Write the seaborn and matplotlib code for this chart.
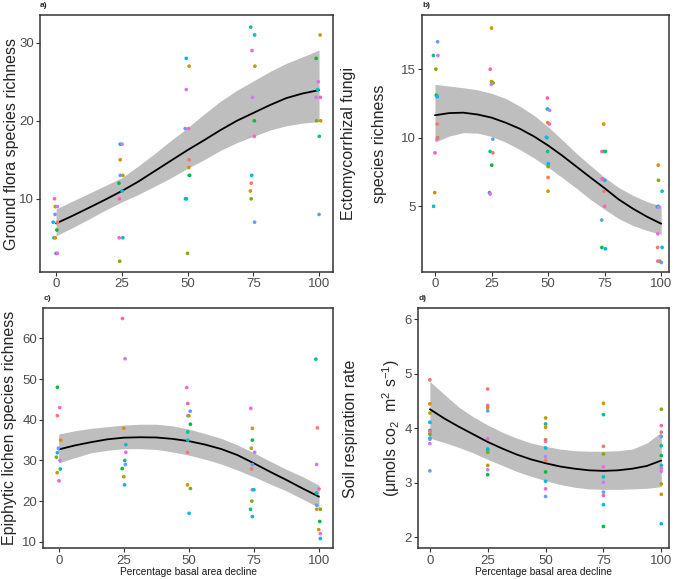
import numpy as np
import pandas as pd
import matplotlib
matplotlib.use("Agg")
import matplotlib.pyplot as plt
import seaborn as sns

# ggplot default hue palette for 12 sites
site_colours = ["#F8766D", "#DE8C00", "#B79F00", "#7CAE00", "#00BA38", "#00C08B",
                "#00BFC4", "#00B4F0", "#619CFF", "#C77CFF", "#F564E3", "#FF64B0"]

# a) ground flora - jittered decline, richness, site
flora_x = [-0.6, -0.3, 0.5, -0.4, -1.1, 0.5, 0.3, -0.8, -0.3, 0.0, 0.5,
           24.4, 25.1, 24.4, 24.4, 25.4, 23.9, 25.1, 24.1, 24.0, 25.4, 24.2,
           49.5, 50.6, 49.5, 49.1, 50.4, 50.6, 50.5, 50.6, 50.8, 49.2, 49.6, 50.0,
           74.0, 75.5, 74.5, 75.6, 74.7, 75.4, 75.4, 74.4, 74.2, 73.9, 74.2, 75.5,
           100.4, 98.9, 99.7, 99.5, 98.9, 100.5, 100.6, 99.1, 100.1, 100.0]
flora_y = [10, 9, 9, 8, 7, 7, 6, 5, 5, 3, 3,
           17, 17, 15, 13, 13, 12, 11, 10, 5, 5, 2,
           28, 27, 24, 19, 19, 15, 14, 13, 13, 10, 10, 3,
           32, 31, 29, 27, 23, 20, 18, 13, 12, 11, 10, 7,
           31, 28, 25, 24, 23, 23, 20, 20, 18, 8]
flora_site = [11, 2, 9, 8, 7, 0, 4, 6, 1, 5, 10,
              5, 9, 1, 8, 2, 4, 7, 11, 10, 6, 3,
              7, 2, 9, 8, 11, 0, 1, 10, 4, 5, 6, 3,
              5, 7, 10, 2, 9, 4, 11, 6, 0, 1, 3, 8,
              2, 4, 10, 6, 9, 11, 1, 3, 5, 8]

# b) ectomycorrhizal fungi
fungi_x = [1.2, -0.7, 1.3, 0.4, 0.6, 1.0, 1.0, 1.2, 0.9, 0.0, -0.1, -0.6,
           25.0, 24.4, 25.0, 25.7, 24.9, 25.6, 24.4, 25.6, 25.1, 24.1, 24.4,
           49.7, 49.7, 50.7, 49.9, 50.6, 49.2, 49.5, 49.8, 50.1, 50.0, 50.0, 50.0,
           74.6, 73.8, 74.7, 75.4, 73.7, 74.1, 75.1, 74.7, 75.0, 73.7, 73.8, 75.4,
           98.7, 98.8, 100.4, 98.2, 98.8, 99.0, 98.5, 98.4, 100.4, 98.5, 99.4, 100.1]
fungi_y = [17.0, 16.0, 16.0, 15.0, 13.1, 13.0, 11.0, 10.0, 9.9, 8.9, 6.0, 5.0,
           18.0, 15.0, 14.1, 14.0, 13.9, 9.9, 9.0, 8.9, 8.0, 6.0, 5.9,
           12.9, 12.1, 12.0, 11.1, 11.0, 10.05, 10.0, 9.0, 8.1, 7.9, 7.1, 6.1,
           11.0, 9.0, 9.0, 9.0, 7.0, 7.0, 6.9, 6.1, 5.0, 4.0, 2.0, 1.9,
           8.0, 6.9, 6.1, 4.95, 5.0, 4.95, 3.0, 2.0, 2.0, 1.0, 1.0, 0.9]
fungi_site = [8, 5, 9, 3, 4, 7, 0, 2, 10, 11, 1, 6,
              1, 11, 2, 3, 9, 8, 5, 0, 4, 6, 10,
              11, 7, 9, 1, 10, 8, 6, 5, 7, 3, 0, 2,
              1, 10, 3, 5, 9, 11, 6, 0, 11, 8, 4, 7,
              1, 3, 6, 8, 4, 9, 10, 0, 7, 10, 2, 8]

# c) epiphytic lichens
lichen_x = [-0.5, 0.4, -0.5, 0.8, -0.1, -0.5, -0.9, 0.5, 0.6, -0.6, 0.1,
            24.5, 25.5, 25.0, 25.8, 25.8, 25.4, 25.6, 24.4, 25.0, 25.3,
            49.2, 49.6, 50.5, 49.6, 50.0, 50.6, 49.6, 49.6, 49.5, 49.5, 50.6, 50.1,
            73.8, 74.4, 74.4, 74.0, 75.3, 74.4, 74.1, 74.4, 75.0, 74.2, 73.7, 74.4,
            98.8, 99.4, 99.1, 100.0, 99.1, 99.1, 99.1, 100.5, 100.3, 99.9, 100.5, 100.5]
lichen_y = [48.0, 43.0, 41.0, 35.0, 33.0, 31.9, 30.8, 30.0, 27.9, 27.0, 25.0,
            64.9, 55.0, 37.9, 33.9, 32.0, 30.0, 29.0, 28.0, 26.0, 24.0,
            47.9, 44.0, 42.1, 41.0, 41.0, 38.9, 37.0, 35.0, 32.0, 24.0, 23.1, 17.0,
            42.8, 37.9, 35.0, 33.0, 32.0, 29.0, 27.9, 22.8, 22.8, 20.0, 18.0, 16.2,
            54.9, 38.0, 29.0, 23.0, 22.0, 19.0, 18.0, 18.0, 15.0, 13.0, 12.0, 10.8]
lichen_site = [4, 10, 0, 1, 8, 7, 3, 9, 5, 2, 11,
               11, 9, 1, 6, 10, 5, 8, 4, 2, 7,
               10, 11, 8, 9, 2, 4, 5, 6, 0, 1, 3, 7,
               10, 1, 4, 2, 9, 8, 0, 11, 6, 3, 5, 7,
               5, 0, 9, 11, 6, 8, 1, 3, 4, 2, 10, 7]

# d) soil respiration
resp_x = [0] * 11 + [25] * 11 + [50] * 12 + [75] * 11 + [100] * 12
resp_y = [4.89, 4.45, 4.28, 4.11, 3.96, 3.94, 3.89, 3.82, 3.80, 3.72, 3.22,
          4.72, 4.42, 4.38, 4.32, 3.81, 3.62, 3.59, 3.56, 3.32, 3.24, 3.15,
          4.19, 4.08, 4.02, 3.79, 3.76, 3.64, 3.48, 3.41, 3.20, 3.03, 2.89, 2.75,
          4.46, 4.25, 3.67, 3.53, 3.29, 3.11, 3.01, 2.83, 2.77, 2.60, 2.20,
          4.35, 4.05, 3.93, 3.85, 3.68, 3.50, 3.32, 3.27, 3.21, 2.98, 2.79, 2.25]
resp_site = [0, 1, 2, 7, 4, 10, 3, 6, 8, 9, 8,
             0, 11, 1, 8, 10, 7, 6, 3, 2, 9, 4,
             2, 5, 1, 3, 11, 6, 9, 0, 4, 7, 10, 8,
             1, 5, 0, 3, 10, 6, 9, 8, 11, 7, 4,
             3, 11, 0, 8, 5, 4, 6, 10, 9, 2, 1, 7]

# fitted smooths and 95% bands (every 6.25 %)
fit_x = [0, 6.25, 12.5, 18.75, 25, 31.25, 37.5, 43.75, 50,
         56.25, 62.5, 68.75, 75, 81.25, 87.5, 93.75, 100]
flora_fit = [6.84, 7.82, 8.85, 9.9, 11.0, 12.2, 13.55, 14.9, 16.24,
             17.5, 18.8, 20.0, 21.0, 22.0, 22.9, 23.5, 23.93]
flora_lo = [5.26, 6.3, 7.4, 8.55, 9.6, 10.55, 11.6, 12.7, 13.9,
            15.0, 16.2, 17.2, 18.0, 18.8, 19.35, 19.7, 19.9]
flora_hi = [8.7, 9.7, 10.7, 11.7, 12.7, 14.2, 15.8, 17.5, 19.1,
            20.85, 22.5, 23.9, 25.1, 26.3, 27.35, 28.2, 29.06]
fungi_fit = [11.64, 11.8, 11.83, 11.7, 11.47, 11.1, 10.66, 10.1, 9.44,
             8.7, 7.9, 7.1, 6.32, 5.5, 4.83, 4.24, 3.73]
fungi_lo = [9.68, 10.12, 10.37, 10.34, 10.1, 9.68, 9.14, 8.53, 7.84,
            7.1, 6.32, 5.5, 4.78, 4.1, 3.6, 3.24, 2.95]
fungi_hi = [13.9, 13.77, 13.65, 13.5, 13.24, 12.87, 12.3, 11.64, 10.8,
            9.85, 8.87, 7.97, 7.1, 6.37, 5.8, 5.34, 5.02]
lichen_fit = [32.7, 33.7, 34.5, 35.2, 35.6, 35.7, 35.65, 35.3, 34.75,
              33.9, 32.8, 31.3, 29.3, 27.2, 25.2, 23.1, 21.1]
lichen_lo = [29.4, 30.7, 31.9, 32.5, 32.9, 32.9, 32.7, 32.1, 31.3,
             30.3, 29.1, 27.6, 26.0, 24.2, 22.5, 20.5, 18.4]
lichen_hi = [36.5, 37.3, 37.9, 38.3, 38.7, 38.9, 38.9, 38.5, 37.7,
             36.6, 35.4, 33.8, 31.9, 29.8, 27.8, 26.0, 23.9]
resp_fit = [4.35, 4.18, 4.03, 3.89, 3.75, 3.63, 3.52, 3.43, 3.36,
            3.30, 3.26, 3.23, 3.22, 3.23, 3.26, 3.31, 3.41]
resp_lo = [3.82, 3.74, 3.65, 3.55, 3.43, 3.32, 3.21, 3.12, 3.04,
           2.97, 2.92, 2.89, 2.88, 2.88, 2.89, 2.90, 2.93]
resp_hi = [4.86, 4.62, 4.39, 4.21, 4.06, 3.93, 3.82, 3.73, 3.67,
           3.62, 3.59, 3.58, 3.58, 3.59, 3.62, 3.73, 3.93]

sns.set_theme(style="white")
plt.rcParams['font.family'] = ['Liberation Sans', 'DejaVu Sans']
plt.rcParams['mathtext.default'] = 'regular'

fig = plt.figure(figsize=(6.75, 5.79), dpi=100)
ax_a = fig.add_axes([0.0593, 0.530, 0.434, 0.444])
ax_b = fig.add_axes([0.6256, 0.530, 0.3660, 0.444])
ax_c = fig.add_axes([0.0642, 0.053, 0.4296, 0.4145])
ax_d = fig.add_axes([0.6197, 0.053, 0.3720, 0.4145])

pal = {i: c for i, c in enumerate(site_colours)}

panels = [
    (ax_a, flora_x, flora_y, flora_site, flora_fit, flora_lo, flora_hi,
     "Ground flora species richness", (-6.1, 105.3), (0.6, 33.55), [10, 20, 30], -0.099, "a)"),
    (ax_b, fungi_x, fungi_y, fungi_site, fungi_fit, fungi_lo, fungi_hi,
     "Ectomycorrhizal fungi\nspecies richness", (-5.6, 103.6), (0.2, 18.95), [5, 10, 15], -0.236, "b)"),
    (ax_c, lichen_x, lichen_y, lichen_site, lichen_fit, lichen_lo, lichen_hi,
     "Epiphytic lichen species richness", (-5.9, 105.5), (8.4, 67.4), [10, 20, 30, 40, 50, 60], -0.115, "c)"),
    (ax_d, resp_x, resp_y, resp_site, resp_fit, resp_lo, resp_hi,
     "Soil respiration rate\n(μmols co$_2$  m$^2$ s$^{-1}$)", (-5.0, 103.5), (1.8, 6.2), [2, 3, 4, 5, 6], -0.183, "d)"),
]

for ax, xs, ys, site, fit, lo, hi, ylab, xl, yl, yt, labx, tag in panels:
    df = pd.DataFrame({"decline": xs, "value": ys, "site": site})
    ax.fill_between(fit_x, lo, hi, color="#BEBEBE", lw=0, zorder=1)
    sns.lineplot(x=fit_x, y=fit, ax=ax, color="black", lw=1.3, zorder=2)
    sns.scatterplot(data=df, x="decline", y="value", hue="site", palette=pal,
                    s=7, linewidth=0, legend=False, ax=ax, zorder=3)
    ax.set_xlim(*xl)
    ax.set_ylim(*yl)
    ax.set_xticks([0, 25, 50, 75, 100])
    ax.set_yticks(yt)
    ax.tick_params(direction="out", length=3, width=0.8, color="#333333",
                   labelcolor="#4D4D4D", labelsize=9.5, pad=1.5,
                   left=True, bottom=True)
    for sp in ax.spines.values():
        sp.set_color("#333333")
        sp.set_linewidth(1.1)
    ax.set_ylabel(ylab, fontsize=11.5, linespacing=2.3)
    ax.yaxis.set_label_coords(labx, 0.5)
    ax.yaxis.label.set_va("center")
    ax.set_xlabel("")
    pos = ax.get_position()
    fig.text(pos.x0, pos.y1 + 0.017, tag, fontsize=6, fontweight="bold",
             ha="left", va="center")

for ax in (ax_c, ax_d):
    ax.set_xlabel("Percentage basal area decline", fontsize=7.3, color="#1A1A1A")
    ax.xaxis.set_label_coords(0.5, -0.1)
    ax.xaxis.label.set_va("center")

fig.savefig("out.png", dpi=100)
